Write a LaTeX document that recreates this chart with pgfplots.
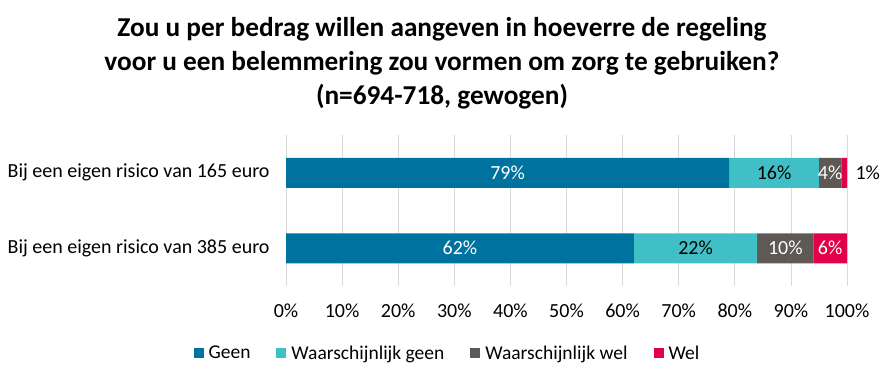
\documentclass[border=0pt]{standalone}
\usepackage{pgfplots}
\pgfplotsset{compat=1.18}
\usepackage{pgfplotstable}
\usepackage{fontspec}
\setmainfont{Carlito}
\definecolor{cgeen}{HTML}{00729F}
\definecolor{cwgeen}{HTML}{41BFC7}
\definecolor{cwwel}{HTML}{5E5955}
\definecolor{cwel}{HTML}{E3004A}
\definecolor{gridc}{HTML}{D9D9D9}
\pgfplotstableread{
cat geen wgeen wwel wel
0 62 22 10 6
1 79 16 4 1
}\datatable
\pgfplotstableread{
x y v
39.5 1 79
97 1 4
31 0 62
89 0 10
97 0 6
}\whitelabels
\pgfplotstableread{
x y v
87 1 16
103.7 1 1
73 0 22
}\blacklabels
\begin{document}
\begin{tikzpicture}
\path[use as bounding box] (0,0) rectangle (885pt,376pt);
\begin{scope}[every node/.style={anchor=base, font=\bfseries\fontsize{27.3}{33}\selectfont, inner sep=0pt}]
\node at (442pt,340pt) {Zou u per bedrag willen aangeven in hoeverre de regeling};
\node at (442pt,306pt) {voor u een belemmering zou vormen om zorg te gebruiken?};
\node at (442pt,272pt) {(n=694-718, gewogen)};
\end{scope}
\begin{axis}[
 at={(286pt,90pt)}, anchor=south west,
 scale only axis, width=561pt, height=151pt,
 xbar stacked, bar width=30pt,
 xmin=0, xmax=100, ymin=-0.5, ymax=1.5,
 xtick={0,10,...,100}, xticklabel={\pgfmathprintnumber{\tick}\%},
 ytick={0,1}, yticklabels={Bij een eigen risico van 385 euro, Bij een eigen risico van 165 euro},
 axis line style={draw=none}, major tick length=0pt,
 xmajorgrids, grid style={color=gridc, line width=0.8pt},
 ticklabel style={font=\fontsize{20}{24}\selectfont, text=black},
 xticklabel style={yshift=-14pt},
 yticklabel style={xshift=-13pt},
 /pgf/number format/assume math mode=true,
 legend columns=4,
 legend style={at={(axis description cs:0.286,-0.444)}, anchor=center, draw=none,
   font=\fontsize{19.5}{23}\selectfont, inner sep=0pt, nodes={inner sep=0pt},
   /tikz/every odd column/.append style={column sep=5pt},
   /tikz/every even column/.append style={column sep=26pt}},
 legend image code/.code={\fill[#1] (0pt,-5pt) rectangle (10pt,5pt);},
]
\addplot[fill=cgeen, draw=none] table[x=geen,y=cat]{\datatable};
\addplot[fill=cwgeen, draw=none] table[x=wgeen,y=cat]{\datatable};
\addplot[fill=cwwel, draw=none] table[x=wwel,y=cat]{\datatable};
\addplot[fill=cwel, draw=none] table[x=wel,y=cat]{\datatable};
\legend{Geen, Waarschijnlijk geen, Waarschijnlijk wel, Wel}
\end{axis}
\begin{axis}[
 at={(286pt,90pt)}, anchor=south west,
 scale only axis, width=561pt, height=151pt,
 xmin=0, xmax=100, ymin=-0.5, ymax=1.5,
 hide axis, clip=false,
 /pgf/number format/assume math mode=true,
 point meta=explicit,
 nodes near coords={\pgfmathprintnumber{\pgfplotspointmeta}\%},
 every node near coord/.append style={anchor=center, font=\fontsize{20}{24}\selectfont},
]
\addplot[only marks, mark=*, mark options={draw=none, fill=none}, mark size=0pt,
  every node near coord/.append style={text=white}] table[x=x,y=y,meta=v]{\whitelabels};
\addplot[only marks, mark=*, mark options={draw=none, fill=none}, mark size=0pt,
  every node near coord/.append style={text=black}] table[x=x,y=y,meta=v]{\blacklabels};
\end{axis}
\end{tikzpicture}
\end{document}
